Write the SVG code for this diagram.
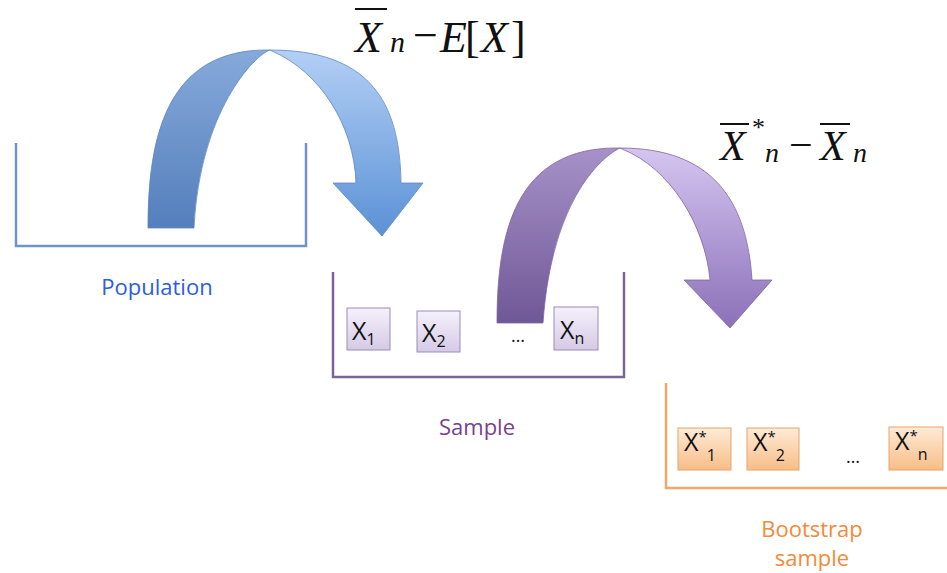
<svg xmlns="http://www.w3.org/2000/svg" width="947" height="573" viewBox="0 0 947 573">
  <defs>
    <linearGradient id="blueBack" x1="0" y1="0" x2="0" y2="1">
      <stop offset="0" stop-color="#86a9da"/>
      <stop offset="1" stop-color="#547fbc"/>
    </linearGradient>
    <linearGradient id="blueFront" x1="0" y1="0" x2="0" y2="1">
      <stop offset="0" stop-color="#b3cff5"/>
      <stop offset="1" stop-color="#5b91d6"/>
    </linearGradient>
    <linearGradient id="purpleBack" x1="0" y1="0" x2="0" y2="1">
      <stop offset="0" stop-color="#a791c8"/>
      <stop offset="1" stop-color="#6f5896"/>
    </linearGradient>
    <linearGradient id="purpleFront" x1="0" y1="0" x2="0" y2="1">
      <stop offset="0" stop-color="#d5c5f0"/>
      <stop offset="1" stop-color="#8b70b8"/>
    </linearGradient>
    <linearGradient id="sampleBox" x1="0" y1="0" x2="0" y2="1">
      <stop offset="0" stop-color="#f5f1fb"/>
      <stop offset="1" stop-color="#d5cae6"/>
    </linearGradient>
    <linearGradient id="bootBox" x1="0" y1="0" x2="0" y2="1">
      <stop offset="0" stop-color="#feebd7"/>
      <stop offset="1" stop-color="#f7bd86"/>
    </linearGradient>
  </defs>
  <style>
    .bracket { fill: none; stroke-width: 2.5; stroke-linejoin: miter; }
    .label { font-family: "Open Sans", "Liberation Sans", sans-serif; font-size: 22px; text-anchor: middle; }
    .item { font-family: "Open Sans", "Liberation Sans", sans-serif; font-size: 25px; fill: #111; }
    .sub { font-size: 16px; }
    .sup { font-size: 15px; }
    .sbox { fill: url(#sampleBox); stroke: #9d8bb8; stroke-width: 1; }
    .bbox { fill: url(#bootBox); stroke: #e6a56a; stroke-width: 1; }
    .dots { font-family: "Open Sans", "Liberation Sans", sans-serif; font-size: 18px; fill: #111; text-anchor: middle; }
    .math { font-family: "Liberation Serif", "Times New Roman", serif; fill: #111; }
    .it { font-style: italic; }
    .bar { stroke: #111; stroke-width: 2; }
  </style>

  <!-- Population container -->
  <g id="population">
    <path class="bracket" stroke="#6d93c9" d="M16,143 V246 H306 V143"/>
    <text class="label" x="157" y="295" fill="#2c5de2">Population</text>
  </g>

  <!-- Sample container with its items -->
  <g id="sample">
    <path class="bracket" stroke="#7d6396" d="M333,272 V377 H624 V272"/>
    <text class="label" x="477" y="435" fill="#7a3f8e">Sample</text>
  </g>
  <g id="sample-x1">
    <rect class="sbox" x="347" y="308" width="43" height="42"/>
    <text class="item" x="352" y="340">X<tspan class="sub" dy="5">1</tspan></text>
  </g>
  <g id="sample-x2">
    <rect class="sbox" x="417" y="311" width="43" height="41"/>
    <text class="item" x="422" y="342">X<tspan class="sub" dy="5">2</tspan></text>
  </g>
  <text class="dots" x="518" y="342">…</text>
  <g id="sample-xn">
    <rect class="sbox" x="554" y="307" width="44" height="43"/>
    <text class="item" x="560" y="339">X<tspan class="sub" dy="5">n</tspan></text>
  </g>

  <!-- Bootstrap sample container with its items -->
  <g id="bootstrap">
    <path class="bracket" stroke="#f2a766" stroke-width="3" d="M666,383 V488 H947"/>
    <text class="label" fill="#f38a3a"><tspan x="812" y="537">Bootstrap</tspan><tspan x="812" y="566">sample</tspan></text>
  </g>
  <g id="boot-x1">
    <rect class="bbox" x="678" y="428" width="53" height="42"/>
    <text class="item" x="684" y="451">X<tspan class="sup" dy="-9">*</tspan><tspan class="sub" dy="19">1</tspan></text>
  </g>
  <g id="boot-x2">
    <rect class="bbox" x="747" y="428" width="52" height="42"/>
    <text class="item" x="753" y="451">X<tspan class="sup" dy="-9">*</tspan><tspan class="sub" dy="19">2</tspan></text>
  </g>
  <text class="dots" x="853" y="463">…</text>
  <g id="boot-xn">
    <rect class="bbox" x="889" y="427" width="54" height="43"/>
    <text class="item" x="895" y="450">X<tspan class="sup" dy="-9">*</tspan><tspan class="sub" dy="19">n</tspan></text>
  </g>

  <!-- Curved arrows: a darker back band rising on the left, a lighter front band ending in the head -->
  <g id="connectors">
    <g id="arrow-population-sample">
      <path fill="url(#blueBack)" stroke="#5f88c2" stroke-width="0.8"
            d="M148,228 C148,140 165,48 270,50 C255,55 200,110 194,228 Z"/>
      <path fill="url(#blueFront)" stroke="#5f88c2" stroke-width="0.8"
            d="M270,50 C368,50 400,100 401,183 L423,183 L382,236 L333,183 L356,183 C354,125 320,72 272,51 Z"/>
    </g>
    <g id="arrow-sample-bootstrap">
      <path fill="url(#purpleBack)" stroke="#7d659f" stroke-width="0.8"
            d="M497,323 C497,235 514,146 620,148 C605,155 552,195 543,323 Z"/>
      <path fill="url(#purpleFront)" stroke="#7d659f" stroke-width="0.8"
            d="M620,148 C712,148 747,200 752,280 L772,280 L730,328 L684,280 L710,280 C705,225 670,168 622,149 Z"/>
    </g>
  </g>

  <!-- Formula: Xbar_n - E[X] -->
  <g id="formula-top" class="math">
    <line class="bar" x1="355" y1="9" x2="387" y2="9"/>
    <text font-size="44"><tspan class="it" x="355" y="52">X</tspan><tspan class="it" x="390" y="52" font-size="30">n</tspan><tspan x="413" y="50">−</tspan><tspan class="it" x="440" y="52">E</tspan><tspan x="465" y="52">[</tspan><tspan class="it" x="481" y="52">X</tspan><tspan x="511" y="52">]</tspan></text>
  </g>

  <!-- Formula: Xbar*_n - Xbar_n -->
  <g id="formula-right" class="math">
    <line class="bar" x1="720" y1="124" x2="749" y2="124"/>
    <line class="bar" x1="820" y1="124" x2="850" y2="124"/>
    <text font-size="42"><tspan class="it" x="720" y="160">X</tspan><tspan x="752" y="136" font-size="26">*</tspan><tspan class="it" x="765" y="162" font-size="28">n</tspan><tspan x="789" y="159">−</tspan><tspan class="it" x="820" y="160">X</tspan><tspan class="it" x="853" y="162" font-size="28">n</tspan></text>
  </g>
</svg>
